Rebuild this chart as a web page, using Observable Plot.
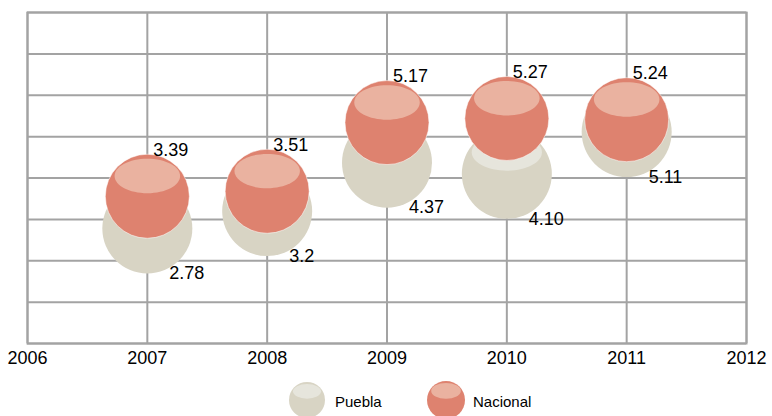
<!DOCTYPE html>
<html>
<head>
<meta charset="utf-8">
<script src="https://cdn.jsdelivr.net/npm/d3@7"></script>
<script src="https://cdn.jsdelivr.net/npm/@observablehq/plot@0.6"></script>
<style>
  html, body { margin: 0; padding: 0; background: #fff; }
  body { width: 772px; height: 416px; overflow: hidden; font-family: "Liberation Sans", Arial, Helvetica, sans-serif; }
  #legend { position: relative; width: 772px; height: 44px; }
  #legend svg { position: absolute; overflow: visible; }
  #legend .lab { position: absolute; font-size: 15px; color: #000; line-height: 1; }
</style>
</head>
<body>
<div id="chart"></div>
<div id="legend"></div>
<script>
// ---- data ----
const years = [2007, 2008, 2009, 2010, 2011];
const puebla = [2.78, 3.2, 4.37, 4.10, 5.11];
const pueblaText = ["2.78", "3.2", "4.37", "4.10", "5.11"];
const nacional = [3.39, 3.51, 5.17, 5.27, 5.24];
const nacionalText = ["3.39", "3.51", "5.17", "5.27", "5.24"];
const xTicks = [2006, 2007, 2008, 2009, 2010, 2011, 2012];
const yTicks = [0, 1, 2, 3, 4, 5, 6, 7, 8];
const seriesNames = ["Puebla", "Nacional"];

const pueblaData = years.map((yr, i) => ({year: yr, value: puebla[i], label: pueblaText[i]}));
const nacionalData = years.map((yr, i) => ({year: yr, value: nacional[i], label: nacionalText[i]}));

const colors = {
  Puebla: {base: "#d8d4c4", hi: "#e6e5dc"},
  Nacional: {base: "#de826f", hi: "#eab2a0"}
};

// glossy highlight: ellipse in the upper part of the bubble
function ellipsePath(ctx, cx, cy, rx, ry) {
  const k = 0.5523;
  ctx.moveTo(cx + rx, cy);
  ctx.bezierCurveTo(cx + rx, cy + k * ry, cx + k * rx, cy + ry, cx, cy + ry);
  ctx.bezierCurveTo(cx - k * rx, cy + ry, cx - rx, cy + k * ry, cx - rx, cy);
  ctx.bezierCurveTo(cx - rx, cy - k * ry, cx - k * rx, cy - ry, cx, cy - ry);
  ctx.bezierCurveTo(cx + k * rx, cy - ry, cx + rx, cy - k * ry, cx + rx, cy);
  ctx.closePath();
}
const highlight = {
  draw(ctx, size) {
    const r = Math.sqrt(size / Math.PI);
    ellipsePath(ctx, 0, -0.48 * r, 0.78 * r, 0.41 * r);
  }
};

const gridColor = "#a3a3a3";

const chart = Plot.plot({
  width: 772,
  height: 372,
  marginLeft: 27,
  marginRight: 26,
  marginTop: 12,
  marginBottom: 29,
  style: {fontFamily: "'Liberation Sans', Arial, Helvetica, sans-serif", fontSize: "18px", color: "#000", background: "#fff"},
  x: {domain: [2006, 2012], label: null},
  y: {domain: [0, 8], axis: null},
  marks: [
    Plot.gridX(xTicks, {stroke: gridColor, strokeOpacity: 1, strokeWidth: 2}),
    Plot.gridY(yTicks, {stroke: gridColor, strokeOpacity: 1, strokeWidth: 2}),
    Plot.frame({stroke: gridColor, strokeWidth: 2}),
    Plot.axisX(xTicks, {tickFormat: d => String(d), tickSize: 0, tickPadding: 8, fontSize: 18, label: null}),
    // Puebla bubbles
    Plot.dot(pueblaData, {x: "year", y: "value", r: 45, fill: colors.Puebla.base}),
    Plot.dot(pueblaData, {x: "year", y: "value", r: 45, symbol: highlight, fill: colors.Puebla.hi}),
    // Nacional bubbles
    Plot.dot(nacionalData, {x: "year", y: "value", r: 42, dy: -7, fill: colors.Nacional.base, stroke: "#fff", strokeOpacity: 0.5, strokeWidth: 1}),
    Plot.dot(nacionalData, {x: "year", y: "value", r: 42, dy: -7, symbol: highlight, fill: colors.Nacional.hi}),
    // labels
    Plot.text(nacionalData, {x: "year", y: "value", text: "label", dx: 6, dy: -53, textAnchor: "start", fontSize: 18, fill: "#000"}),
    Plot.text(pueblaData, {x: "year", y: "value", text: "label", dx: 22, dy: 45, textAnchor: "start", fontSize: 18, fill: "#000"})
  ]
});
document.getElementById("chart").appendChild(chart);

// legend
const legend = document.getElementById("legend");
const legendItems = [
  {name: seriesNames[0], cx: 307, r: 18, textX: 335},
  {name: seriesNames[1], cx: 446, r: 19, textX: 473}
];
const ns = "http://www.w3.org/2000/svg";
for (const it of legendItems) {
  const svg = document.createElementNS(ns, "svg");
  svg.setAttribute("width", 2 * it.r + 2);
  svg.setAttribute("height", 2 * it.r + 2);
  svg.style.left = (it.cx - it.r - 1) + "px";
  svg.style.top = (28 - it.r - 1) + "px";
  const c = document.createElementNS(ns, "circle");
  c.setAttribute("cx", it.r + 1);
  c.setAttribute("cy", it.r + 1);
  c.setAttribute("r", it.r);
  c.setAttribute("fill", colors[it.name].base);
  svg.appendChild(c);
  const e = document.createElementNS(ns, "ellipse");
  e.setAttribute("cx", it.r + 1);
  e.setAttribute("cy", it.r + 1 - 0.48 * it.r);
  e.setAttribute("rx", 0.78 * it.r);
  e.setAttribute("ry", 0.41 * it.r);
  e.setAttribute("fill", colors[it.name].hi);
  svg.appendChild(e);
  legend.appendChild(svg);
  const t = document.createElement("div");
  t.className = "lab";
  t.textContent = it.name;
  t.style.left = it.textX + "px";
  t.style.top = (30 - 8) + "px";
  legend.appendChild(t);
}
</script>
</body>
</html>
